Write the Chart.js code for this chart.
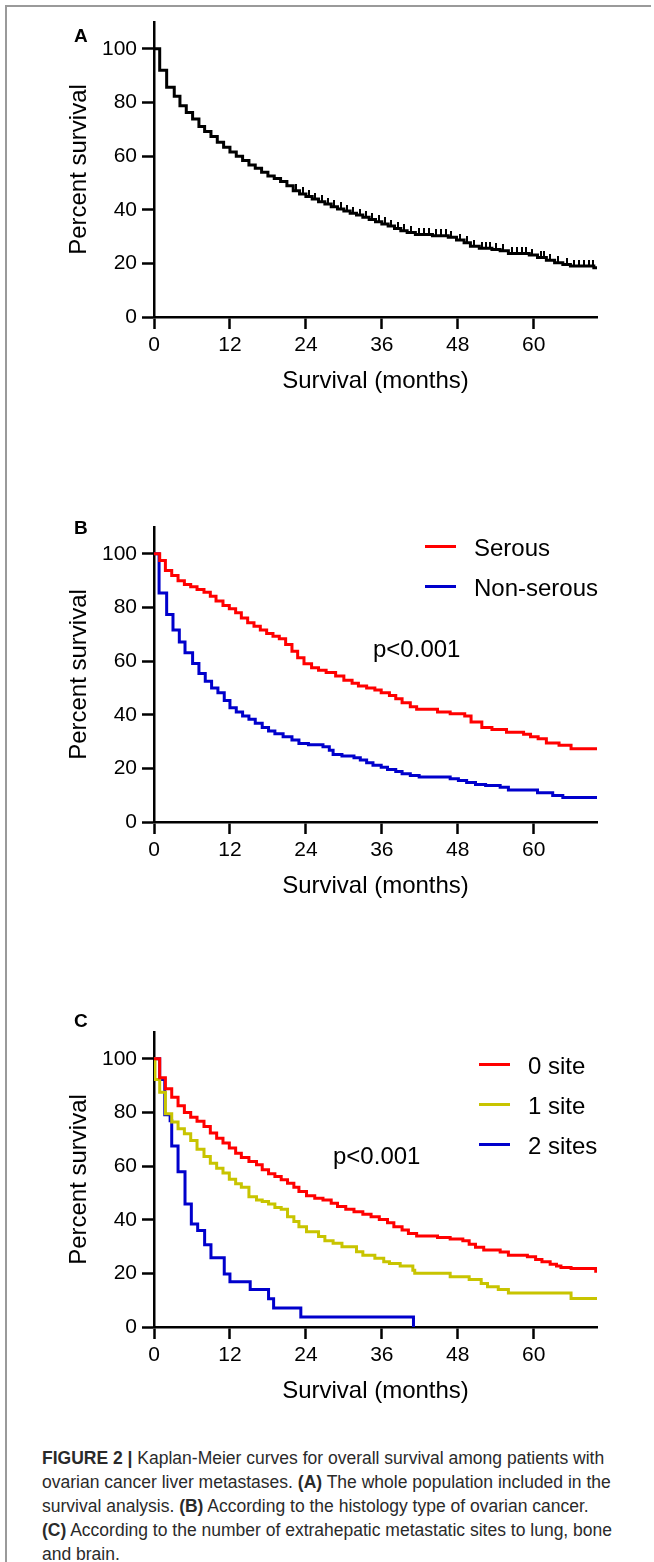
<!DOCTYPE html>
<html>
<head>
<meta charset="utf-8">
<script src="https://cdn.jsdelivr.net/npm/chart.js@4.4.0/dist/chart.umd.min.js"></script>
<style>
html,body{margin:0;padding:0;background:#fff;}
body{width:654px;height:1562px;position:relative;overflow:hidden;font-family:"Liberation Sans",Arial,sans-serif;}
canvas{position:absolute;left:0;}
.lbl{position:absolute;font-weight:bold;font-size:19px;color:#000;line-height:1;}
.leg{position:absolute;font-size:24px;color:#000;line-height:1;white-space:nowrap;}
.sw{position:absolute;height:3px;width:31px;}
.pv{position:absolute;font-size:24px;color:#000;line-height:1;white-space:nowrap;}
#cap{position:absolute;left:42px;top:1446px;font-size:17.5px;line-height:24px;color:#2a2a2a;white-space:nowrap;}
.ft{position:absolute;left:5px;top:5px;width:646px;height:2px;background:#9a9a9a;}
.fl{position:absolute;left:5px;top:5px;width:2px;height:1557px;background:#9a9a9a;}
</style>
</head>
<body>
<div class="ft"></div><div class="fl"></div>

<canvas id="cA" width="654" height="420" style="top:0px"></canvas>
<canvas id="cB" width="654" height="420" style="top:505px"></canvas>
<canvas id="cC" width="654" height="420" style="top:1010px"></canvas>

<div class="lbl" style="left:74px;top:26px">A</div>
<div class="lbl" style="left:74px;top:518px">B</div>
<div class="lbl" style="left:74px;top:1011px">C</div>

<div class="sw" style="left:425px;top:545px;background:#ff0000"></div>
<div class="leg" style="left:474px;top:536px">Serous</div>
<div class="sw" style="left:425px;top:585px;background:#0000cc"></div>
<div class="leg" style="left:474px;top:576px">Non-serous</div>
<div class="pv" style="left:373px;top:637px">p&lt;0.001</div>

<div class="sw" style="left:479px;top:1063px;background:#ff0000"></div>
<div class="leg" style="left:528px;top:1054px">0 site</div>
<div class="sw" style="left:479px;top:1103px;background:#c8c400"></div>
<div class="leg" style="left:528px;top:1094px">1 site</div>
<div class="sw" style="left:479px;top:1143px;background:#0000cc"></div>
<div class="leg" style="left:528px;top:1134px">2 sites</div>
<div class="pv" style="left:333px;top:1144px">p&lt;0.001</div>

<div id="cap"><b>FIGURE 2 |</b> Kaplan-Meier curves for overall survival among patients with<br>ovarian cancer liver metastases. <b>(A)</b> The whole population included in the<br>survival analysis. <b>(B)</b> According to the histology type of ovarian cancer.<br><b>(C)</b> According to the number of extrahepatic metastatic sites to lung, bone<br>and brain.</div>

<script>
// ---- tick labels ----
const xTicks = [0, 12, 24, 36, 48, 60];
const yTicks = [0, 20, 40, 60, 80, 100];

// ---- Panel A: whole population ----
const timeA = [0,0.9,2,3.2,4.1,5.1,6.1,7.1,8,9,10,11,12,13,14,15,16,17,18,19,20,21,22,23,24,25,26,27,28,29,30,31,32,33,34,35,36,37,38,39,40,41.3,44,46.5,47.8,49,50,51.4,53.4,54.7,56,59.3,60.6,62,63.3,64.6,65.8,69.5,70];
const survA = [100,92,85.7,82.3,78.8,76.3,73.8,71,69.2,67.3,65.2,63.3,61.5,59.9,58.4,56.7,55.5,54,52.6,51.6,50.5,48.9,47.1,45.9,44.9,44,43,42.1,41.1,40.3,39.5,38.7,38,37.2,36.4,35.5,34.7,33.9,33,32.2,31.5,30.8,30.3,29.7,28.7,27.7,26.4,25.6,25.2,24.7,23.7,23.1,22.2,21.2,20.2,19.6,19,18.4,18.4];
const censorA = [22.5,23.5,24.5,25.5,26.5,27.5,28.5,29.5,30.5,31.5,32.5,33.5,34.5,35.5,36.5,37.5,38.5,39.5,40.6,41.8,42.6,43.4,44.6,45.4,46.1,46.9,48.3,49.4,50.6,51.8,52.5,53.1,54.1,55.2,56.5,57.3,58.1,58.8,59.8,61.1,61.6,62.6,63.9,65.2,66.3,67.1,67.9,68.7,69.4];

// ---- Panel B: histology ----
const timeSerous = [0,0.9,1.8,2.8,3.8,4.8,5.8,6.8,7.9,8.9,9.8,10.9,11.9,12.9,13.8,14.8,15.8,16.8,17.8,18.8,19.8,20.8,21.8,22.7,23.7,24.9,26,27.2,28.7,30,31.3,32.3,33.6,34.9,35.9,37.2,38.2,39.2,40.5,41.5,44.8,46.8,49.1,50.1,51.8,53.4,55.7,58.4,59.5,60.7,62,64,65.9,70];
const survSerous = [100,97.5,93.8,91.9,90,88.6,87.7,86.7,85.7,84.2,82.4,80.7,79.5,78,76.1,74.3,73,71.6,70.3,69.3,68.3,66.2,63.7,61.2,59,57.5,56.6,55.7,54.4,52.9,51.7,50.7,50,49.2,48.2,47.2,46,44.5,43,42,41,40.4,39.5,37.3,35.2,34.5,33.5,32.7,31.8,31,29.5,28.6,27.3,27.3];
const timeNonSerous = [0,0.8,2,3,4,4.9,6.1,7.1,8.1,9.1,10.1,11.1,12,13,14,15,16,17.1,18.1,19.1,20.4,21.8,22.9,24.4,26.7,27.7,28.3,29.7,31.6,32.6,33.6,34.6,35.9,36.9,38.2,39.2,40.5,41.9,46.8,48.1,49.4,50.8,52.4,54.7,56,60.6,63,64.6,70];
const survNonSerous = [100,85.4,77.4,71.6,67.1,63.1,59.1,55.4,52.5,50,48.2,45.3,42.6,41,39.5,38.3,36.8,35.2,33.9,32.9,31.8,30.6,29.3,28.8,28.1,26.8,25.2,24.6,24,23.1,22.1,21.2,20.4,19.6,18.8,18,17.3,16.8,16.1,15.5,14.7,14,13.6,13,11.9,10.9,9.9,9.1,8.7];

// ---- Panel C: extrahepatic sites ----
const time0 = [0,0.9,1.8,2.8,3.8,4.8,5.8,6.8,7.9,8.9,9.9,10.9,11.9,12.9,13.8,15,16.2,17.1,18.1,19.1,20.1,21.1,22.1,22.9,24.1,25.4,26.7,28,29,30.3,31.6,33,34.3,35.6,36.9,37.9,39.2,40.2,41.5,44.8,46.8,48.8,49.8,50.8,52.1,54.7,56,59,60.3,61.3,62.6,63.6,64.3,65.9,69.8,70];
const surv0 = [100,92.9,88.8,85.7,82.5,80,78.2,76.7,74.8,72.3,70.4,68.6,66.7,64.8,63.2,61.7,60.5,58.6,57.1,56.1,54.9,53.6,52.1,50.5,48.9,48,47.4,46.1,44.9,43.9,43,42,41.1,40.1,38.9,37.4,36.2,34.9,33.9,33.4,32.8,32.2,30.9,29.7,28.7,28,26.8,26.2,25.2,24.3,23.4,22.7,22.2,21.8,20.8,20.8];
const time1 = [0,0.15,0.9,1.8,2.8,3.8,4.8,5.8,6.8,7.9,8.9,9.9,10.9,11.9,12.9,13.8,15,16.2,17.1,18.1,19.1,20.1,21.1,22.1,22.9,24.1,26,27,28.3,29.7,32,33,34.9,36.3,37.2,38.9,40.9,41.2,46.8,49.8,51.7,52.7,54.4,56,65.9,70];
const surv1 = [100,92.3,87.5,79.5,76.4,73.9,72.1,69.5,66.3,63.6,61.1,59.2,57.4,55.1,53.4,52.1,48.6,47.4,46.8,45.9,44.6,43.9,41.1,39.3,37.4,35.5,33.7,32.2,31.2,29.9,28.1,26.8,25.6,24.3,23.7,22.7,21.2,20,18.7,17.7,16.2,15,14,12.7,10.6,10.6];
const time2 = [0,0.9,1.7,2.55,2.8,3.8,4.9,5.9,6.9,8,9,11.1,12,15.2,18.1,18.9,23.2,41];
const surv2 = [100,92.3,79.1,76.9,67.5,57.9,45.9,38.4,36,30.7,25.8,19.8,16.9,14,10.5,7.1,3.7,0];

// ---- helpers ----
const FONT = "'Liberation Sans', Arial, sans-serif";
const pts = (t, s) => t.map((x, i) => ({x: x, y: s[i]}));
const stepAt = (t, s, x) => { let v = s[0]; for (let i = 0; i < t.length; i++) { if (t[i] <= x) v = s[i]; } return v; };

const tickImg = document.createElement('canvas');
tickImg.width = 2; tickImg.height = 13;
(function(){ const c = tickImg.getContext('2d'); c.fillStyle = '#000'; c.fillRect(0, 0, 2, 6.5); })();

function kmLine(data, color) {
  // Kaplan-Meier: value holds until the next event time, then drops
  return {type: 'line', data: data, borderColor: color, borderWidth: 3, stepped: 'before',
          pointRadius: 0, fill: false, tension: 0, borderCapStyle: 'butt', borderJoinStyle: 'miter'};
}

function options() {
  const gridOpts = {display: true, drawOnChartArea: false, drawTicks: true, tickLength: 12,
                    tickWidth: 2.5, tickColor: '#000', color: '#000'};
  return {
    responsive: false, animation: false, devicePixelRatio: 1,
    layout: {padding: {top: 22, right: 57, left: 0, bottom: 0}},
    plugins: {legend: {display: false}, tooltip: {enabled: false}},
    events: [],
    scales: {
      x: {type: 'linear', min: 0, max: 70,
          afterFit: (s) => { s.height = 103; },
          afterBuildTicks: (s) => { s.ticks = xTicks.map(v => ({value: v})); },
          ticks: {font: {family: FONT, size: 21}, color: '#000', padding: 4, maxRotation: 0, autoSkip: false},
          grid: gridOpts,
          border: {display: true, color: '#000', width: 2.5},
          title: {display: true, text: 'Survival (months)', font: {family: FONT, size: 24}, color: '#000',
                  padding: {top: 0, bottom: 24}}},
      y: {type: 'linear', min: 0, max: 110,
          afterFit: (s) => { s.width = 154; },
          afterBuildTicks: (s) => { s.ticks = yTicks.map(v => ({value: v})); },
          ticks: {font: {family: FONT, size: 21}, color: '#000', padding: 5, autoSkip: false},
          grid: gridOpts,
          border: {display: true, color: '#000', width: 2.5},
          title: {display: true, text: 'Percent survival', font: {family: FONT, size: 24}, color: '#000',
                  padding: {top: 65, bottom: 0}}}
    }
  };
}

new Chart(document.getElementById('cA'), {
  type: 'line',
  data: {datasets: [
    {type: 'scatter', data: censorA.map(t => ({x: t, y: stepAt(timeA, survA, t)})),
     pointStyle: tickImg, pointRadius: 4, showLine: false},
    kmLine(pts(timeA, survA), '#000000')
  ]},
  options: options()
});

new Chart(document.getElementById('cB'), {
  type: 'line',
  data: {datasets: [
    kmLine(pts(timeSerous, survSerous), '#ff0000'),
    kmLine(pts(timeNonSerous, survNonSerous), '#0000cc')
  ]},
  options: options()
});

new Chart(document.getElementById('cC'), {
  type: 'line',
  data: {datasets: [
    kmLine(pts(time0, surv0), '#ff0000'),
    kmLine(pts(time1, surv1), '#c8c400'),
    kmLine(pts(time2, surv2), '#0000cc')
  ]},
  options: options()
});
</script>
</body>
</html>
